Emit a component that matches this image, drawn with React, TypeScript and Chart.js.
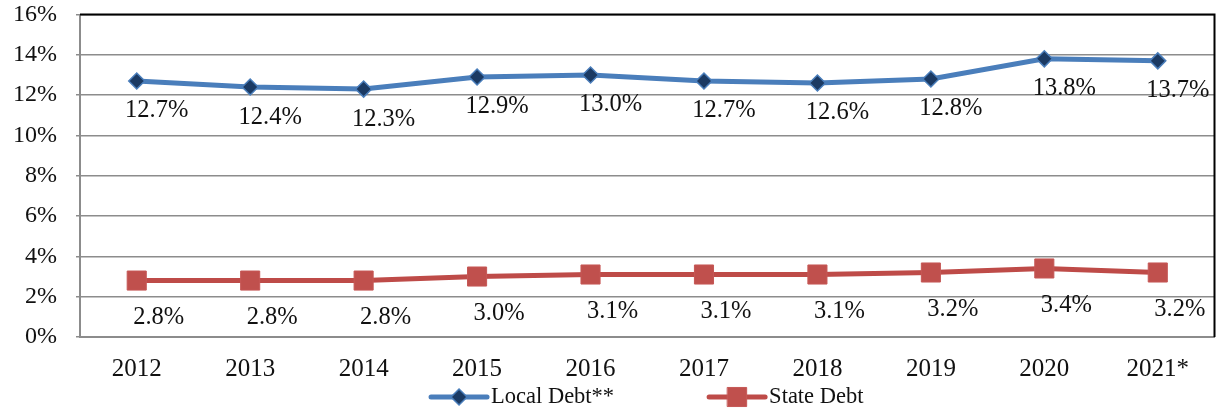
import React, { useEffect, useRef } from "react";
import { Chart, registerables } from "chart.js";

Chart.register(...registerables);

const categories = ["2012", "2013", "2014", "2015", "2016", "2017", "2018", "2019", "2020", "2021*"];
const localDebt = [12.7, 12.4, 12.3, 12.9, 13.0, 12.7, 12.6, 12.8, 13.8, 13.7];
const stateDebt = [2.8, 2.8, 2.8, 3.0, 3.1, 3.1, 3.1, 3.2, 3.4, 3.2];
const yTicks = [0, 2, 4, 6, 8, 10, 12, 14, 16];

const FONT = "'Liberation Serif', 'DejaVu Serif', serif";

const labelsPlugin = {
  id: "dataLabels",
  afterDatasetsDraw(chart: any) {
    const ctx = chart.ctx;
    ctx.save();
    ctx.font = `24.5px ${FONT}`;
    ctx.fillStyle = "#111";
    ctx.textAlign = "center";
    ctx.textBaseline = "middle";
    const offsets = [
      { dx: 20, dy: 30 },
      { dx: 22, dy: 37 },
    ];
    chart.data.datasets.forEach((ds: any, i: number) => {
      const meta = chart.getDatasetMeta(i);
      meta.data.forEach((pt: any, j: number) => {
        const v = ds.data[j];
        ctx.fillText(v.toFixed(1) + "%", pt.x + offsets[i].dx, pt.y + offsets[i].dy);
      });
    });
    ctx.restore();
  },
};

const framePlugin = {
  id: "frame",
  afterDraw(chart: any) {
    const { ctx, chartArea } = chart;
    ctx.save();
    ctx.strokeStyle = "#000";
    ctx.lineWidth = 2;
    ctx.beginPath();
    ctx.moveTo(chartArea.left, chartArea.top);
    ctx.lineTo(chartArea.right, chartArea.top);
    ctx.lineTo(chartArea.right, chartArea.bottom);
    ctx.stroke();
    ctx.restore();
  },
};

const legendPlugin = {
  id: "customLegend",
  afterDraw(chart: any) {
    const { ctx, chartArea } = chart;
    ctx.save();
    ctx.font = `22.5px ${FONT}`;
    const lineLen = 56;
    const gapText = 4;
    const gapItems = 95;
    const items = chart.data.datasets.map((ds: any) => ({
      ds,
      w: ctx.measureText(ds.label).width,
    }));
    let total = 0;
    items.forEach((it: any, i: number) => {
      total += lineLen + gapText + it.w + (i > 0 ? gapItems : 0);
    });
    let x = (chartArea.left + chartArea.right) / 2 - total / 2;
    const y = 397;
    items.forEach((it: any, i: number) => {
      if (i > 0) x += gapItems;
      const ds = it.ds;
      ctx.strokeStyle = ds.borderColor;
      ctx.lineWidth = ds.borderWidth;
      ctx.lineCap = "round";
      ctx.beginPath();
      ctx.moveTo(x, y);
      ctx.lineTo(x + lineLen, y);
      ctx.stroke();
      const cx = x + lineLen / 2;
      ctx.fillStyle = ds.pointBackgroundColor;
      ctx.strokeStyle = ds.pointBorderColor;
      ctx.lineWidth = ds.pointBorderWidth;
      if (ds.pointStyle === "rectRot") {
        const r = ds.pointRadius;
        ctx.beginPath();
        ctx.moveTo(cx, y - r);
        ctx.lineTo(cx + r, y);
        ctx.lineTo(cx, y + r);
        ctx.lineTo(cx - r, y);
        ctx.closePath();
        ctx.fill();
        ctx.stroke();
      } else {
        const s = ds.pointRadius * Math.SQRT1_2;
        ctx.beginPath();
        ctx.rect(cx - s, y - s, 2 * s, 2 * s);
        ctx.fill();
        ctx.stroke();
      }
      x += lineLen + gapText;
      ctx.fillStyle = "#111";
      ctx.textAlign = "left";
      ctx.textBaseline = "middle";
      ctx.fillText(ds.label, x, y);
      x += it.w;
    });
    ctx.restore();
  },
};

export default function App() {
  const canvasRef = useRef<HTMLCanvasElement | null>(null);

  useEffect(() => {
    document.body.style.margin = "0";
    const canvas = canvasRef.current;
    if (!canvas) return;
    const chart = new Chart(canvas, {
      type: "line",
      data: {
        labels: categories,
        datasets: [
          {
            label: "Local Debt**",
            data: localDebt,
            borderColor: "#4A7EBB",
            borderWidth: 5,
            pointStyle: "rectRot",
            pointRadius: 8,
            pointHoverRadius: 8,
            pointBackgroundColor: "#1B3A63",
            pointBorderColor: "#4A7EBB",
            pointBorderWidth: 1.5,
            tension: 0,
          } as any,
          {
            label: "State Debt",
            data: stateDebt,
            borderColor: "#BE4B48",
            borderWidth: 5,
            pointStyle: "rect",
            pointRadius: 13.5,
            pointHoverRadius: 13.5,
            pointBackgroundColor: "#C0504D",
            pointBorderColor: "#C65856",
            pointBorderWidth: 1,
            tension: 0,
          } as any,
        ],
      },
      options: {
        animation: false,
        responsive: false,
        maintainAspectRatio: false,
        layout: { padding: { left: 0, right: 4, top: 14, bottom: 0 } },
        plugins: {
          legend: { display: false },
          tooltip: { enabled: false },
        },
        scales: {
          x: {
            offset: true,
            grid: { display: false, drawTicks: false },
            border: { display: true, color: "#8C8C8C", width: 2 },
            ticks: {
              color: "#111",
              font: { family: FONT, size: 25 },
              padding: 17,
              maxRotation: 0,
              autoSkip: false,
            },
            afterFit: (scale: any) => {
              scale.height = 73;
              scale.paddingLeft = 0;
              scale.paddingRight = 0;
            },
          },
          y: {
            min: 0,
            max: 16,
            afterBuildTicks: (scale: any) => {
              scale.ticks = yTicks.map((v) => ({ value: v }));
            },
            grid: {
              color: "#8C8C8C",
              lineWidth: 1.5,
              tickLength: 4,
              drawTicks: true,
            },
            border: { display: true, color: "#8C8C8C", width: 2 },
            ticks: {
              color: "#111",
              font: { family: FONT, size: 24 },
              padding: 19,
              callback: (v: any) => v + "%",
            },
            afterFit: (scale: any) => {
              scale.width = 80;
              scale.paddingTop = 0;
              scale.paddingBottom = 0;
            },
          },
        },
      },
      plugins: [framePlugin, labelsPlugin, legendPlugin],
    });
    return () => chart.destroy();
  }, []);

  return (
    <div style={{ width: 1229, height: 410, position: "relative" }}>
      <canvas ref={canvasRef} width={1229} height={410} style={{ display: "block" }} />
    </div>
  );
}
